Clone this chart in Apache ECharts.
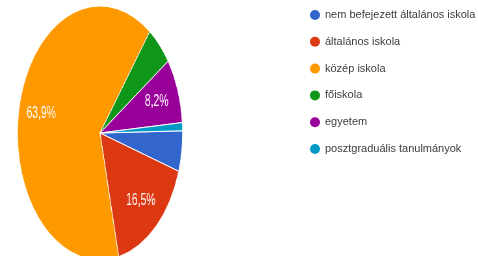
<!DOCTYPE html>
<html>
<head>
<meta charset="utf-8">
<script src="https://cdn.jsdelivr.net/npm/echarts@6/dist/echarts.min.js"></script>
<style>
  html, body { margin: 0; padding: 0; background: #fff; overflow: hidden; }
  #wrap { position: relative; width: 478px; height: 256px; overflow: hidden; }
  /* the pie in the source picture is squeezed sideways (an ellipse), the legend text much less */
  #pie { position: absolute; left: 0; top: 0; width: 735px; height: 256px; transform: scaleX(0.65); transform-origin: 0 0; }
  #over { position: absolute; left: 0; top: 0; width: 478px; height: 256px; }
</style>
</head>
<body>
<div id="wrap"><div id="pie"></div><div id="over"></div></div>
<script>
const categories = [
  'nem befejezett általános iskola',
  'általános iskola',
  'közép iskola',
  'főiskola',
  'egyetem',
  'posztgraduális tanulmányok'
];
const counts = [5, 16, 62, 5, 8, 1];
const colors = ['#3366cc', '#dc3912', '#ff9900', '#109618', '#990099', '#0099c6'];

const squeeze = 0.65;
const cy = 133;
const R = 127;
const cx = 100 / squeeze; // pie centre inside the squeezed div

const total = counts.reduce((a, b) => a + b, 0);
const pieData = categories.map((name, i) => ({ name, value: counts[i] }));

function pct(v) {
  const p = v / total * 100;
  if (p < 7) return '';
  return p.toFixed(1).replace('.', ',') + '%';
}

// the slices, drawn round and squeezed by css
const pie = echarts.init(document.getElementById('pie'));
pie.setOption({
  backgroundColor: '#fff',
  color: colors,
  animation: false,
  series: [{
    type: 'pie',
    center: [cx, cy],
    radius: [0, R],
    startAngle: 1,
    clockwise: true,
    label: { show: false },
    labelLine: { show: false },
    itemStyle: { borderColor: '#fff', borderWidth: 1 },
    data: pieData
  }, {
    // only carries the labels, at about 70% of the radius
    type: 'pie',
    silent: true,
    center: [cx, cy],
    radius: [52, R],
    startAngle: 1,
    clockwise: true,
    itemStyle: { color: 'rgba(0,0,0,0)' },
    label: {
      show: true,
      position: 'inside',
      color: '#fff',
      fontSize: 16,
      fontFamily: 'Liberation Sans',
      formatter: p => pct(p.value)
    },
    labelLine: { show: false },
    data: pieData
  }]
});

// legend, not squeezed
const over = echarts.init(document.getElementById('over'));
over.setOption({
  animation: false,
  legend: {
    orient: 'vertical',
    left: 305,
    top: 3,
    icon: 'circle',
    itemWidth: 10,
    itemHeight: 10,
    itemGap: 12.8,
    textStyle: { fontSize: 11, color: '#3c3c3c', fontFamily: 'Liberation Sans', lineHeight: 14 },
    data: categories.map((name, i) => ({ name, itemStyle: { color: colors[i] } }))
  },
  series: [{
    type: 'pie',
    silent: true,
    center: [100, cy],
    radius: [0, 1],
    itemStyle: { color: 'rgba(0,0,0,0)' },
    label: { show: false },
    labelLine: { show: false },
    data: pieData
  }]
});
</script>
</body>
</html>
